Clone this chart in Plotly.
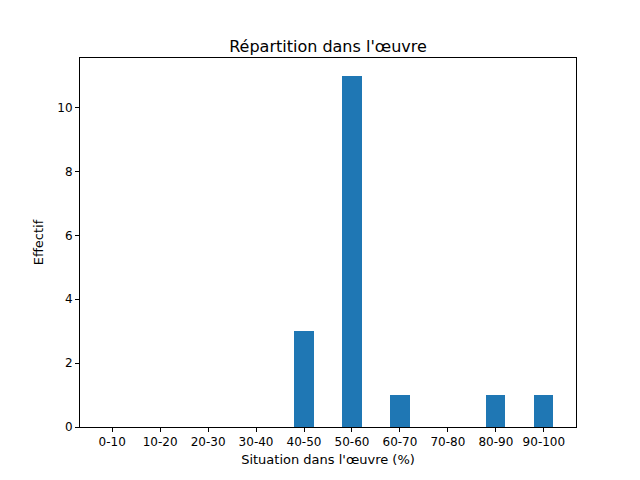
import plotly.graph_objects as go

categories = ["0-10", "10-20", "20-30", "30-40", "40-50", "50-60", "60-70", "70-80", "80-90", "90-100"]
counts = [0, 0, 0, 0, 3, 11, 1, 0, 1, 1]

fig = go.Figure(go.Bar(x=list(range(len(categories))), y=counts, width=0.4,
                       marker=dict(color="#1f77b4", line=dict(width=0))))

axis_common = dict(showline=True, linecolor="black", linewidth=1, mirror=True,
                   ticks="outside", ticklen=4, tickcolor="black", showgrid=False,
                   zeroline=False, tickfont=dict(size=12, color="black"))

fig.update_layout(
    width=640, height=480,
    paper_bgcolor="white", plot_bgcolor="white",
    font=dict(family="DejaVu Sans", color="black", size=12),
    title=dict(text="Répartition dans l'œuvre", x=0.5, xanchor="center",
               yref="paper", y=1.0, yanchor="bottom", pad=dict(b=6),
               font=dict(size=16)),
    margin=dict(l=72, r=72, t=50, b=61),
    bargap=0,
    xaxis=dict(axis_common, range=[-0.67, 9.67], tickmode="array",
               tickvals=list(range(len(categories))), ticktext=categories,
               title=dict(text="Situation dans l'œuvre (%)", standoff=6, font=dict(size=13))),
    yaxis=dict(axis_common, range=[0, 11.55], tickvals=[0, 2, 4, 6, 8, 10],
               title=dict(text="Effectif", standoff=10, font=dict(size=13))),
)

fig.write_html("out.html")
